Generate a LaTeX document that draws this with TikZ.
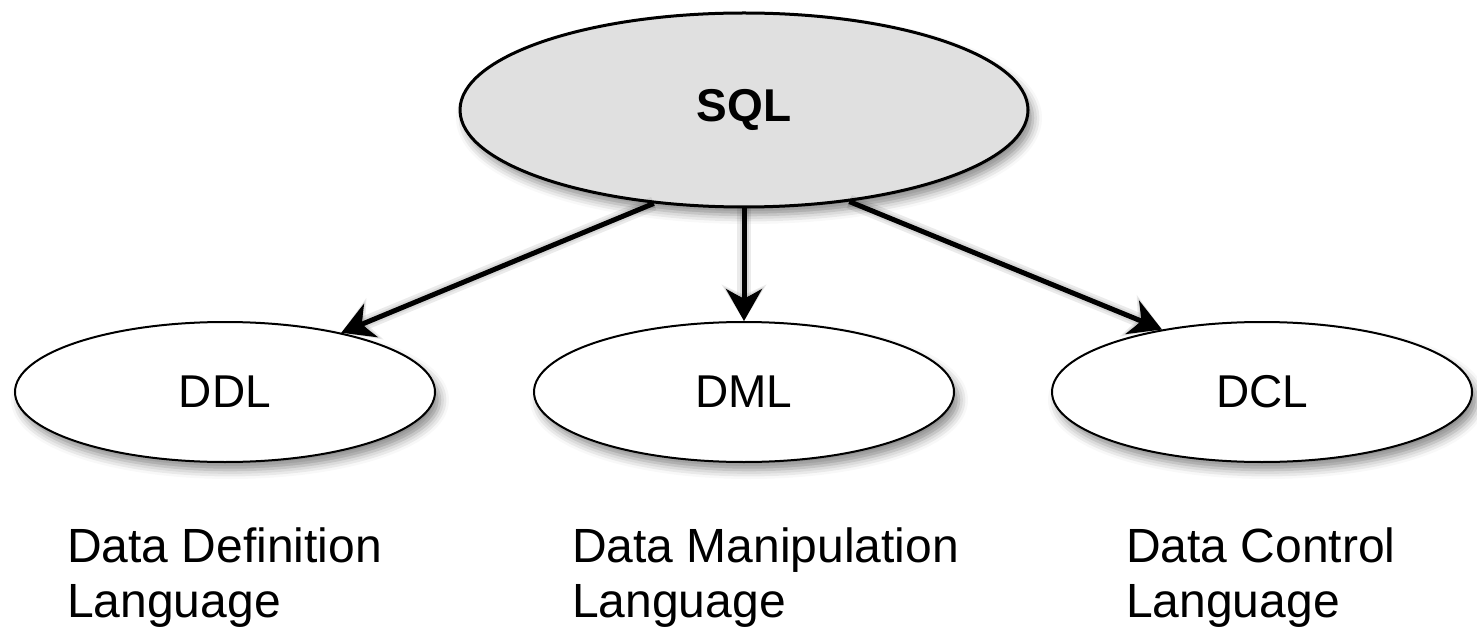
\documentclass[tikz,border=0pt]{standalone}
\usepackage{fontspec}
\setmainfont{Liberation Sans}
\usetikzlibrary{shapes.geometric,arrows.meta,shadows.blur}
\definecolor{sqlgray}{RGB}{224,224,224}
\tikzset{
  oval/.style={ellipse, draw=black, line width=2pt, inner sep=0pt,
    blur shadow={shadow xshift=5pt, shadow yshift=-8pt, shadow blur radius=9pt, shadow opacity=45}},
  top oval/.style={oval, fill=sqlgray, line width=3pt, minimum width=568pt, minimum height=194pt,
    font=\fontsize{46}{55}\selectfont\bfseries},
  sub oval/.style={oval, fill=white, minimum width=420pt, minimum height=140pt,
    font=\fontsize{46}{55}\selectfont},
  desc/.style={anchor=base west, align=left, inner sep=0pt, font=\fontsize{48}{55}\selectfont},
  link/.style={line width=5pt, -{Stealth[length=32pt, width=36pt, inset=10pt]},
    preaction={draw=black, draw opacity=0.08, line width=14pt, shift={(4pt,-6pt)}, -{Stealth[length=36pt, width=44pt, inset=10pt]}},
    preaction={draw=black, draw opacity=0.08, line width=9pt, shift={(4pt,-6pt)}, -{Stealth[length=34pt, width=40pt, inset=10pt]}}}
}
\begin{document}
\begin{tikzpicture}[x=1pt, y=-1pt]
\useasboundingbox (0,0) rectangle (1477,628);
\node[top oval] (sql) at (744,110) {SQL};
\node[sub oval] (ddl) at (225,392) {DDL};
\node[sub oval] (dml) at (744,392) {DML};
\node[sub oval] (dcl) at (1262,392) {DCL};
\draw[link] (sql.-134.7) -- (ddl.27);
\draw[link] (sql.south) -- (dml.north);
\draw[link] (sql.-41.3) -- (dcl.148.7);
\node[desc] (ddltext) at (67,617) {Data Definition\\Language};
\node[desc] (dmltext) at (572,617) {Data Manipulation\\Language};
\node[desc] (dcltext) at (1126,617) {Data Control\\Language};
\end{tikzpicture}
\end{document}
